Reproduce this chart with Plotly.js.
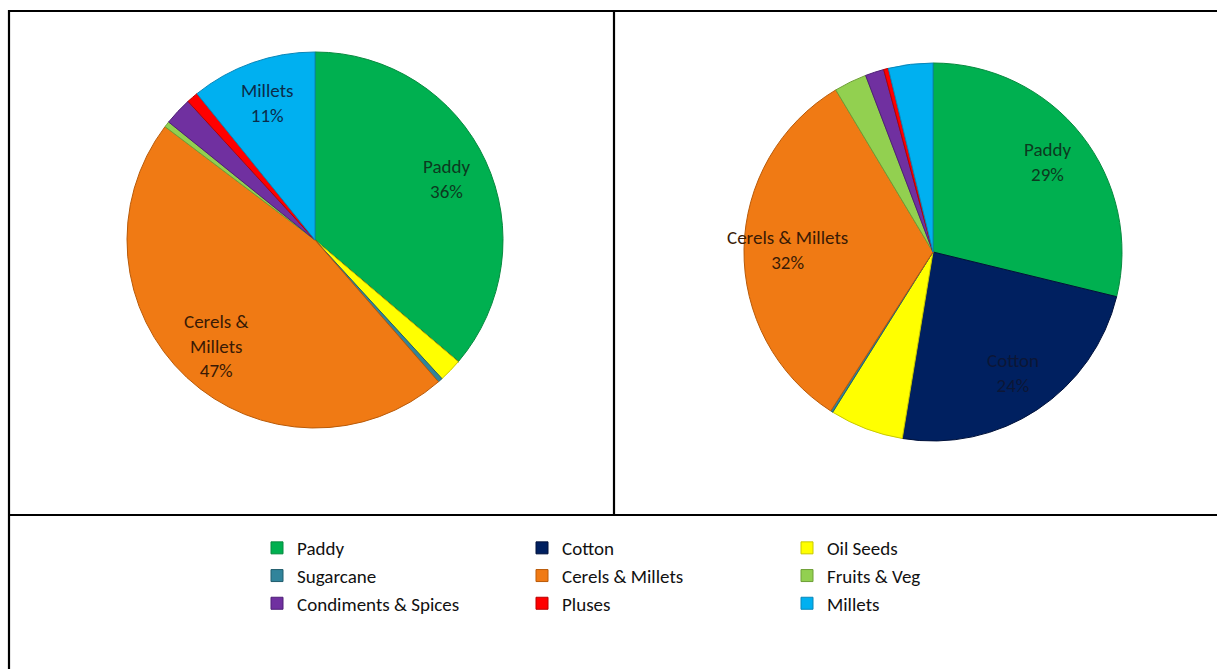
<!DOCTYPE html>
<html>
<head>
<meta charset="utf-8">
<script src="https://cdn.plot.ly/plotly-3.0.1.min.js"></script>
<style>html,body{margin:0;padding:0;background:#fff;}#chart{width:1217px;height:669px;}</style>
</head>
<body>
<div id="chart"></div>
<script>
// ---- data ----
var categories = ["Paddy", "Cotton", "Oil Seeds", "Sugarcane", "Cerels & Millets", "Fruits & Veg", "Condiments & Spices", "Pluses", "Millets"];
var sharesLeft  = [36.2, 0, 2.0, 0.4, 46.7, 0.5, 2.4, 1.0, 10.8];
var sharesRight = [28.8, 23.8, 6.3, 0.2, 32.3, 2.8, 1.6, 0.4, 3.8];
var labelsShownLeft  = ["Paddy", "Cerels &<br>Millets", "Millets"];
var labelsShownRight = ["Paddy", "Cotton", "Cerels & Millets"];

// ---- styles ----
var sliceColors = ["#00B050", "#002060", "#FFFF00", "#31849B", "#F07A14", "#92D050", "#7030A0", "#FF0000", "#00B0F0"];
var edgeColors  = ["#078a3f", "#00113a", "#c9c900", "#215d6d", "#b95a08", "#6e9f36", "#4e1f76", "#b80000", "#0a86b8"];
var textColors  = ["#0c3a1f", "#0c1636", "#333", "#222", "#3a1a05", "#222", "#222", "#222", "#0b2c4a"];

var W = 1217, H = 669, ML = 100, MR = 90;
var PW = W - ML - MR;
function px(x) { return (x - ML) / PW; }
function py(y) { return 1 - y / H; }

var font = "Carlito, Calibri, 'Open Sans', sans-serif";

function pie(values, cx, cy, r, showLegend) {
  return {
    type: "pie",
    labels: categories,
    values: values,
    sort: false,
    direction: "clockwise",
    rotation: 0,
    marker: { colors: sliceColors, line: { color: edgeColors, width: 1 } },
    textinfo: "none",
    hoverinfo: "label+percent",
    showlegend: showLegend,
    domain: { x: [px(cx - r), px(cx + r)], y: [py(cy + r), py(cy - r)] }
  };
}

// slice labels placed along each slice's bisector, derived from the values
function sliceLabels(values, shown, cx, cy, r) {
  var total = values.reduce(function (a, b) { return a + b; }, 0);
  var cum = 0, out = [];
  values.forEach(function (v, i) {
    var mid = (cum + v / 2) / total * 2 * Math.PI;
    cum += v;
    shown.forEach(function (s) {
      if (s.replace("<br>", " ") !== categories[i]) return;
      var k = 0.77;
      out.push({
        xref: "paper", yref: "paper",
        x: px(cx + k * r * Math.sin(mid)), y: py(cy - k * r * Math.cos(mid)),
        text: s + "<br>" + Math.round(v / total * 100) + "%",
        showarrow: false, xanchor: "center", yanchor: "middle",
        font: { family: font, size: 19, color: textColors[i] }
      });
    });
  });
  return out;
}

var P1 = { cx: 315, cy: 240, r: 188 }, P2 = { cx: 933, cy: 252, r: 189 };

var data = [
  pie(sharesLeft, P1.cx, P1.cy, P1.r, false),
  pie(sharesRight, P2.cx, P2.cy, P2.r, true)
];

function line(x0, y0, x1, y1) {
  return { type: "line", xref: "paper", yref: "paper", x0: px(x0), y0: py(y0), x1: px(x1), y1: py(y1),
           line: { color: "#000", width: 2.2 } };
}

var layout = {
  width: W, height: H,
  margin: { l: ML, r: MR, t: 0, b: 0, pad: 0 },
  paper_bgcolor: "#fff",
  font: { family: font, color: "#222" },
  showlegend: true,
  legend: {
    orientation: "h", x: px(257), xanchor: "left", y: py(529), yanchor: "top",
    entrywidth: 220, entrywidthmode: "pixels", traceorder: "normal",
    font: { family: font, size: 19, color: "#111" }, itemwidth: 30
  },
  annotations: sliceLabels(sharesLeft, labelsShownLeft, P1.cx, P1.cy, P1.r)
    .concat(sliceLabels(sharesRight, labelsShownRight, P2.cx, P2.cy, P2.r)),
  shapes: [
    line(9, 11, 1217, 11),
    line(9, 10, 9, 669),
    line(614, 11, 614, 515),
    line(9, 515, 1217, 515)
  ]
};

Plotly.newPlot("chart", data, layout, { displayModeBar: false, staticPlot: true });
</script>
</body>
</html>
